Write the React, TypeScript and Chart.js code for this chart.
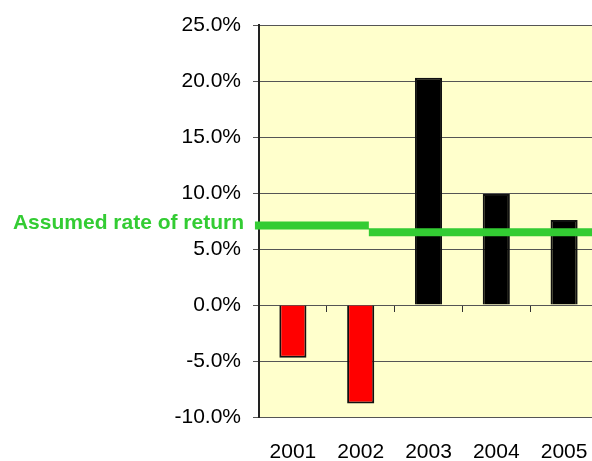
import React, { useEffect, useRef } from "react";
import { Chart, registerables } from "chart.js";

Chart.register(...registerables);

const years = ["2001", "2002", "2003", "2004", "2005"];
const annualReturns = [-4.7, -8.8, 20.3, 9.9, 7.6];
const rateLabel = "Assumed rate of return";
const rateX = [-0.06, 1.62, null, 1.62, 5.2];
const rateY = [7.1, 7.1, null, 6.5, 6.5];
const yMin = -10;
const yMax = 25;
const yStep = 5;

const FONT = '"Liberation Sans", Arial, sans-serif';

export default function App() {
  const ref = useRef<HTMLCanvasElement | null>(null);

  useEffect(() => {
    if (!ref.current) return;

    const bgPlugin = {
      id: "plotBg",
      beforeDraw(chart: any) {
        const { ctx, chartArea } = chart;
        ctx.save();
        ctx.fillStyle = "#FFFFCC";
        ctx.fillRect(chartArea.left, chartArea.top, chartArea.right - chartArea.left, chartArea.bottom - chartArea.top);
        ctx.restore();
      },
    };

    const labelPlugin = {
      id: "rateLabel",
      afterDraw(chart: any) {
        const { ctx, chartArea, scales } = chart;
        const y = scales.y.getPixelForValue(rateY[0] as number);
        ctx.save();
        ctx.font = `bold 21px ${FONT}`;
        ctx.fillStyle = "#33CC33";
        ctx.textAlign = "right";
        ctx.textBaseline = "middle";
        ctx.fillText(rateLabel, chartArea.left - 15, y - 2);
        ctx.restore();
      },
    };

    const lineData = rateX.map((x, i) =>
      x === null ? { x: 1.62, y: null } : { x, y: rateY[i] }
    );

    const chart = new Chart(ref.current, {
      type: "bar",
      data: {
        labels: years,
        datasets: [
          {
            type: "line",
            label: rateLabel,
            data: lineData as any,
            xAxisID: "xl",
            yAxisID: "y",
            borderColor: "#33CC33",
            borderWidth: 8,
            borderCapStyle: "butt",
            pointRadius: 0,
            spanGaps: false,
            clip: false as any,
            order: 0,
          } as any,
          {
            type: "bar",
            label: "Annual return",
            data: annualReturns,
            xAxisID: "x",
            yAxisID: "y",
            backgroundColor: annualReturns.map((v) => (v < 0 ? "#FF0000" : "#000000")),
            borderColor: "#111111",
            borderWidth: 2,
            barPercentage: 0.4,
            categoryPercentage: 1,
            grouped: false,
            order: 1,
          } as any,
        ],
      },
      options: {
        responsive: false,
        animation: false,
        layout: { padding: { top: 25, left: 0, right: 0, bottom: 0 } },
        plugins: {
          legend: { display: false },
          tooltip: { enabled: false },
        },
        scales: {
          x: {
            type: "category",
            position: "bottom",
            offset: true,
            grid: { display: false, drawTicks: false },
            border: { display: false },
            ticks: {
              font: { family: FONT, size: 21 },
              color: "#000",
              padding: 23,
              maxRotation: 0,
            },
            afterFit: (s: any) => {
              s.height = 44;
              s.paddingLeft = 0;
              s.paddingRight = 0;
            },
          },
          x0: {
            type: "category",
            labels: years,
            position: { y: 0 } as any,
            offset: true,
            ticks: { display: false },
            grid: {
              offset: true,
              drawOnChartArea: false,
              drawTicks: true,
              tickLength: 7,
              color: "#333",
              lineWidth: 1,
            },
            border: { display: false },
            afterFit: (s: any) => {
              s.paddingLeft = 0;
              s.paddingRight = 0;
            },
          },
          xl: {
            type: "linear",
            display: false,
            offset: false,
            min: 0,
            max: 5,
          },
          y: {
            type: "linear",
            min: yMin,
            max: yMax,
            ticks: {
              stepSize: yStep,
              font: { family: FONT, size: 21 },
              color: "#000",
              padding: 12,
              callback: (v: any) => Number(v).toFixed(1) + "%",
            },
            grid: { color: "#555", lineWidth: 1, tickLength: 6 },
            border: { color: "#222", width: 2 },
            afterFit: (s: any) => {
              s.width = 259;
            },
          },
        },
      } as any,
      plugins: [bgPlugin, labelPlugin],
    });

    return () => chart.destroy();
  }, []);

  return (
    <div
      style={{
        position: "absolute",
        left: 0,
        top: 0,
        width: 592,
        height: 461,
        overflow: "hidden",
        background: "#fff",
      }}
    >
      <canvas ref={ref} width={598} height={461} style={{ display: "block" }} />
    </div>
  );
}
